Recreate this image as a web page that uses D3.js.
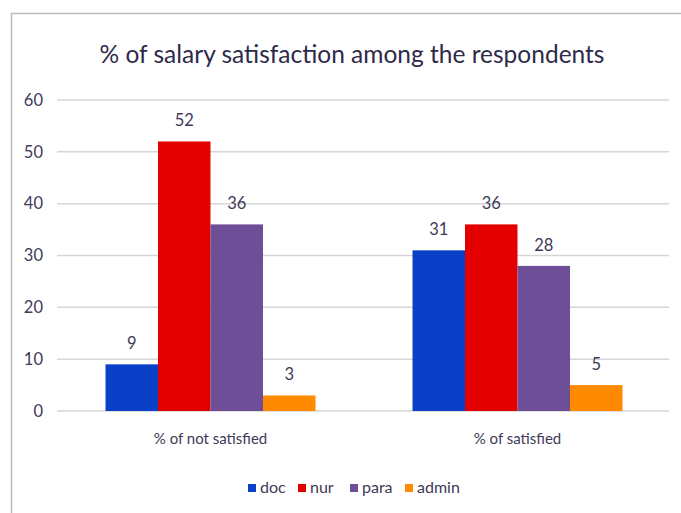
<!DOCTYPE html>
<html>
<head>
<meta charset="utf-8">
<script src="https://cdn.jsdelivr.net/npm/d3@7"></script>
<style>
  html, body { margin: 0; padding: 0; background: #fff; }
  svg { display: block; }
</style>
</head>
<body>
<svg id="chart" width="681" height="513"></svg>
<script>
// Salary satisfaction by staff group
const categories = ["% of not satisfied", "% of satisfied"];
const seriesNames = ["doc", "nur", "para", "admin"];
const docValues = [9, 31];
const nurValues = [52, 36];
const paraValues = [36, 28];
const adminValues = [3, 5];
const yTicks = [0, 10, 20, 30, 40, 50, 60];
const titleText = "% of salary satisfaction among the respondents";

const seriesValues = [docValues, nurValues, paraValues, adminValues];
const colors = ["#0a3fc8", "#e50000", "#6e4f97", "#ff8a00"];
const font = "Lato, 'Open Sans', sans-serif";
const textColor = "#403a58";

const svg = d3.select("#chart");

// chart frame
svg.append("path")
  .attr("d", "M11.5,513 V13.5 H681")
  .attr("fill", "none")
  .attr("stroke", "#b9b9c4")
  .attr("stroke-width", 1.5);

const plot = { left: 57, right: 671, top: 100, bottom: 411 };

const y = d3.scaleLinear().domain([0, 60]).range([plot.bottom, plot.top]);
const x0 = d3.scaleBand().domain(categories).range([plot.left, plot.right]).padding(0);
const x1 = d3.scaleBand().domain(seriesNames)
  .range([x0.bandwidth() * 0.158, x0.bandwidth() * 0.842]).padding(0);

// gridlines
svg.append("g")
  .selectAll("line")
  .data(yTicks)
  .join("line")
  .attr("x1", plot.left)
  .attr("x2", plot.right - 2)
  .attr("y1", d => y(d))
  .attr("y2", d => y(d))
  .attr("stroke", "#d6d6d6")
  .attr("stroke-width", 1.5);

// y axis labels
const yAxis = d3.axisLeft(y).tickValues(yTicks).tickSize(0).tickPadding(0);
svg.append("g")
  .attr("transform", `translate(43,0)`)
  .call(yAxis)
  .call(g => g.select(".domain").remove())
  .selectAll("text")
  .attr("font-family", font)
  .attr("font-size", 16.5)
  .attr("fill", textColor);

// bars
const groups = svg.append("g")
  .selectAll("g")
  .data(categories)
  .join("g")
  .attr("transform", d => `translate(${x0(d)},0)`);

groups.selectAll("rect")
  .data((c, i) => seriesNames.map((s, j) => ({ s, v: seriesValues[j][i], j })))
  .join("rect")
  .attr("x", d => x1(d.s))
  .attr("width", x1.bandwidth())
  .attr("y", d => y(d.v))
  .attr("height", d => y(0) - y(d.v))
  .attr("fill", d => colors[d.j]);

// value labels
groups.selectAll("text")
  .data((c, i) => seriesNames.map((s, j) => ({ s, v: seriesValues[j][i], j })))
  .join("text")
  .attr("x", d => x1(d.s) + x1.bandwidth() / 2)
  .attr("y", d => y(d.v) - 15)
  .attr("text-anchor", "middle")
  .attr("font-family", font)
  .attr("font-size", 16.5)
  .attr("fill", textColor)
  .text(d => d.v);

// category axis labels
const xAxis = d3.axisBottom(x0).tickSize(0).tickPadding(0);
svg.append("g")
  .attr("transform", `translate(0,433)`)
  .call(xAxis)
  .call(g => g.select(".domain").remove())
  .selectAll("text")
  .attr("font-family", font)
  .attr("font-size", 15)
  .attr("fill", textColor);

// title
svg.append("text")
  .attr("x", 352)
  .attr("y", 63)
  .attr("text-anchor", "middle")
  .attr("font-family", font)
  .attr("font-size", 24.5)
  .attr("fill", "#2e2a4a")
  .text(titleText);

// legend
const legendX = [248, 298, 350, 405];
const legend = svg.append("g")
  .selectAll("g")
  .data(seriesNames)
  .join("g")
  .attr("transform", (d, i) => `translate(${legendX[i]},482)`);
legend.append("rect")
  .attr("width", 8).attr("height", 8).attr("y", 2)
  .attr("fill", (d, i) => colors[i]);
legend.append("text")
  .attr("x", 12).attr("y", 11)
  .attr("font-family", font)
  .attr("font-size", 16)
  .attr("fill", textColor)
  .text(d => d);
</script>
</body>
</html>
